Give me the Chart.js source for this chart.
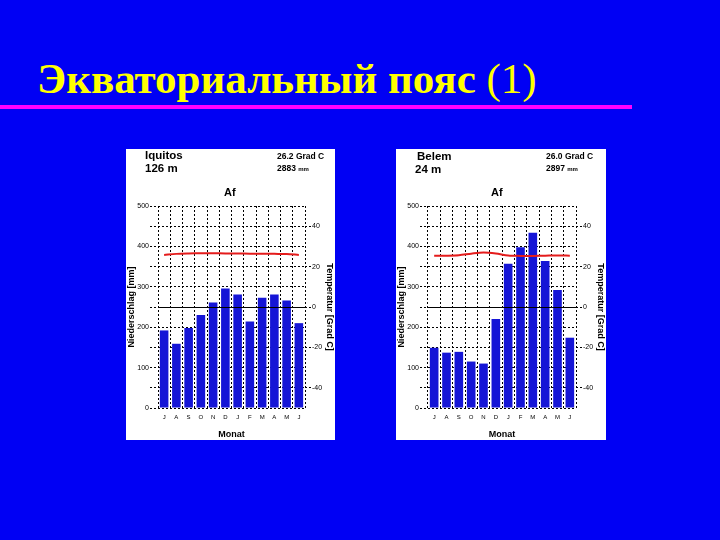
<!DOCTYPE html>
<html>
<head>
<meta charset="utf-8">
<script src="https://cdn.jsdelivr.net/npm/chart.js@4"></script>
<style>
  body { margin: 0; width: 720px; height: 540px; background: #0000f4; overflow: hidden; position: relative; }
  .title { position: absolute; left: 37px; top: 57px; font-family: "Liberation Serif", serif; font-size: 43px; line-height: 43px; color: #ffff00; white-space: nowrap; }
  .title b { font-weight: bold; }
  .rule { position: absolute; left: 0; top: 105px; width: 632px; height: 4px; background: #ff00ff; }
  .panel { position: absolute; top: 149px; height: 291px; background: #fff; }
  .panel canvas { position: absolute; left: 0; top: 0; }
  .txt { position: absolute; font-family: "Liberation Sans", Arial, sans-serif; font-weight: bold; color: #000; white-space: nowrap; }
  .city { font-size: 11.5px; line-height: 12px; }
  .info { font-size: 8.5px; line-height: 10px; }
  .info small { font-size: 6px; }
  .af { font-size: 11px; line-height: 12px; top: 37px; }
</style>
</head>
<body>
<div class="title"><b>Экваториальный пояс</b> (1)</div>
<div class="rule"></div>

<div class="panel" style="left:126px; width:209px;">
  <canvas id="iquitos" width="209" height="291"></canvas>
  <div class="txt city" style="left:19px; top:0px;">Iquitos</div>
  <div class="txt city" style="left:19px; top:13px;">126 m</div>
  <div class="txt info" style="left:151px; top:2px;">26.2 Grad C</div>
  <div class="txt info" style="left:151px; top:14px;">2883 <small>mm</small></div>
  <div class="txt af" style="left:98px;">Af</div>
</div>

<div class="panel" style="left:396px; width:210px;">
  <canvas id="belem" width="210" height="291"></canvas>
  <div class="txt city" style="left:21px; top:1px;">Belem</div>
  <div class="txt city" style="left:19px; top:14px;">24 m</div>
  <div class="txt info" style="left:150px; top:2px;">26.0 Grad C</div>
  <div class="txt info" style="left:150px; top:14px;">2897 <small>mm</small></div>
  <div class="txt af" style="left:95px;">Af</div>
</div>

<script>
// months from July to June (as in the source diagrams)
var months = ['J', 'A', 'S', 'O', 'N', 'D', 'J', 'F', 'M', 'A', 'M', 'J'];

var iquitosPrecip = [192, 159, 198, 230, 261, 296, 281, 214, 273, 281, 266, 210];
var iquitosTemp = [25.8, 26.3, 26.5, 26.6, 26.6, 26.5, 26.5, 26.4, 26.4, 26.3, 26.2, 25.8];

var belemPrecip = [149, 137, 139, 115, 110, 220, 357, 398, 434, 364, 292, 174];
var belemTemp = [25.4, 25.4, 25.6, 26.4, 27.0, 26.5, 25.5, 25.3, 25.3, 25.4, 25.5, 25.4];

var precipTicks = [0, 100, 200, 300, 400, 500];
var tempTicks = [-40, -20, 0, 20, 40];

function makeChart(id, precip, temp) {
	var ctx = document.getElementById(id).getContext('2d');
	return new Chart(ctx, {
		data: {
			labels: months,
			datasets: [{
				type: 'line',
				data: temp,
				yAxisID: 'yT',
				borderColor: '#e41b1b',
				borderWidth: 2,
				pointRadius: 0,
				tension: 0.3,
				order: 0
			}, {
				type: 'bar',
				data: precip,
				yAxisID: 'y',
				backgroundColor: '#1515d6',
				categoryPercentage: 1,
				barPercentage: 0.7,
				order: 1
			}]
		},
		options: {
			responsive: false,
			animation: false,
			layout: { padding: { top: 57, left: 0, right: 0, bottom: 0 } },
			plugins: { legend: { display: false }, tooltip: { enabled: false } },
			scales: {
				x: {
					grid: { color: '#000', lineWidth: 1, offset: true, drawTicks: false },
					border: { display: false, dash: [2, 2] },
					ticks: { font: { family: 'Liberation Sans', size: 6 }, color: '#000', padding: 6, maxRotation: 0, autoSkip: false },
					title: { display: true, text: 'Monat', color: '#000', padding: 0, font: { family: 'Liberation Sans', size: 9, weight: 'bold' } },
					afterFit: function(s) { s.height = 32; }
				},
				y: {
					position: 'left',
					min: 0,
					max: 500,
					ticks: {
						stepSize: 50,
						color: '#000',
						padding: 1,
						font: { family: 'Liberation Sans', size: 7 },
						callback: function(v) { return precipTicks.indexOf(v) >= 0 ? v : ''; }
					},
					grid: {
						color: function(c) { return c.tick && c.tick.value === 250 ? 'rgba(0,0,0,0)' : '#000'; },
						tickColor: '#000',
						tickLength: 8,
						tickBorderDash: [2, 2]
					},
					border: { display: false, dash: [2, 2] },
					title: { display: true, text: 'Niederschlag [mm]', color: '#000', padding: 0, font: { family: 'Liberation Sans', size: 9, weight: 'bold' } },
					afterFit: function(s) { s.width = 32; }
				},
				yT: {
					position: 'right',
					min: -50,
					max: 50,
					afterBuildTicks: function(s) { s.ticks = tempTicks.map(function(v) { return { value: v }; }); },
					ticks: { color: '#000', padding: 1, font: { family: 'Liberation Sans', size: 7 } },
					grid: {
						z: 1,
						color: function(c) { return c.tick && c.tick.value === 0 ? '#000' : 'rgba(0,0,0,0)'; },
						tickColor: '#000',
						tickLength: 6,
						tickBorderDash: [2, 2]
					},
					border: { display: false },
					title: { display: true, text: 'Temperatur [Grad C]', color: '#000', padding: 0, font: { family: 'Liberation Sans', size: 9, weight: 'bold' } },
					afterFit: function(s) { s.width = 30; }
				}
			}
		}
	});
}

makeChart('iquitos', iquitosPrecip, iquitosTemp);
makeChart('belem', belemPrecip, belemTemp);
</script>
</body>
</html>
